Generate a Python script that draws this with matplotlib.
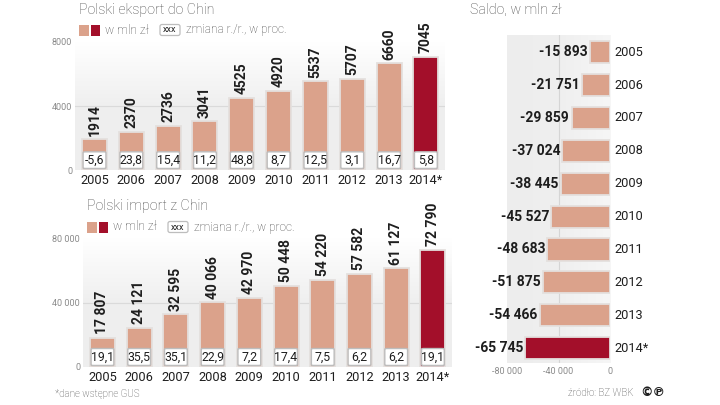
import matplotlib.pyplot as plt
import numpy as np
from matplotlib.patches import FancyBboxPatch, Rectangle
from matplotlib.colors import LinearSegmentedColormap

years = ['2005', '2006', '2007', '2008', '2009', '2010', '2011', '2012', '2013', '2014*']
export_val = [1914, 2370, 2736, 3041, 4525, 4920, 5537, 5707, 6660, 7045]
export_chg = ['-5,6', '23,8', '15,4', '11,2', '48,8', '8,7', '12,5', '3,1', '16,7', '5,8']
import_val = [17807, 24121, 32595, 40066, 42970, 50448, 54220, 57582, 61127, 72790]
import_chg = ['19,1', '35,5', '35,1', '22,9', '7,2', '17,4', '7,5', '6,2', '6,2', '19,1']
saldo_val = [-15893, -21751, -29859, -37024, -38445, -45527, -48683, -51875, -54466, -65745]

SALMON = '#dba28b'
DARK = '#a30f2a'
TXT = '#1e1e1e'
GREY = '#8a8a8a'
LABEL = '#4a4a4a'

plt.rcParams['font.family'] = ['Roboto', 'DejaVu Sans']

W, H = 720, 405
fig = plt.figure(figsize=(7.2, 4.05), dpi=100)
fig.patch.set_facecolor('white')


def fmt(v):
    return '{:,}'.format(v).replace(',', ' ')


def px_axes(x0, y0, x1, y1, **kw):
    # axes from pixel box (top-left origin)
    return fig.add_axes([x0 / W, 1 - y1 / H, (x1 - x0) / W, (y1 - y0) / H], **kw)


def gradient(ax, horizontal=False):
    if horizontal:
        cmap = LinearSegmentedColormap.from_list('g', ['#f6f6f6', '#efefef', '#ededed'])
        img = np.linspace(0, 1, 100)[::-1][None, :]
    else:
        cmap = LinearSegmentedColormap.from_list('g', ['#ffffff', '#efefef', '#eeeeee'])
        img = np.linspace(0, 1, 100)[:, None]
    ax.imshow(img, cmap=cmap, aspect='auto', extent=[0, 1, 0, 1],
              transform=ax.transAxes, zorder=0, vmin=0, vmax=1)


def column_chart(ax, vals, chg, ymax, ticks, ticklabels, box_h, label_fmt):
    x = np.arange(len(vals))
    gradient(ax)
    ax.axhline(ticks[1], color='#dadada', lw=0.8, zorder=1)
    colors = [SALMON] * (len(vals) - 1) + [DARK]
    ax.bar(x, vals, width=0.68, color=colors, edgecolor='#e4e0de', lw=1.3, zorder=2)
    for xi, v, c in zip(x, vals, chg):
        ax.add_patch(FancyBboxPatch((xi - 0.31, ymax * 0.012), 0.62, box_h,
                                    boxstyle='round,pad=0,rounding_size=0.06',
                                    mutation_aspect=ymax / 10,
                                    fc='white', ec='#bdbdbd', lw=1.0, zorder=3))
        ax.text(xi, ymax * 0.012 + box_h / 2, c, ha='center', va='center',
                fontsize=8.8, color=TXT, zorder=4)
        ax.text(xi, v + ymax * 0.03, label_fmt(v), rotation=90, ha='center',
                va='bottom', fontsize=10, fontweight='bold', color=TXT,
                clip_on=False)
    ax.set_xlim(-0.53, 9.52)
    ax.set_ylim(0, ymax)
    ax.set_yticks(ticks)
    ax.set_yticklabels(ticklabels, fontsize=6.5, color=GREY)
    ax.set_xticks(x)
    ax.set_xticklabels(years, fontsize=9.2, color=TXT)
    ax.tick_params(length=0, pad=3)
    ax.tick_params(axis='y', pad=2)
    for s in ax.spines.values():
        s.set_visible(False)


# top: export
ax1 = px_axes(75, 42, 445, 170)
column_chart(ax1, export_val, export_chg, 8000, [0, 4000, 8000],
             ['0', '4000', '8000'], 1040, str)

# bottom: import
ax2 = px_axes(83, 238, 452, 367)
column_chart(ax2, import_val, import_chg, 80000, [0, 40000, 80000],
             ['0', '40 000', '80 000'], 10500, fmt)

# right: saldo
ax3 = px_axes(507, 35, 610, 363)
gradient(ax3, horizontal=True)
y = np.arange(len(saldo_val))
ax3.axvline(-40000, color='#d5d5d5', lw=0.8, zorder=1)
colors = [SALMON] * (len(saldo_val) - 1) + [DARK]
ax3.barh(y, saldo_val, height=0.67, color=colors, edgecolor='#e4e0de', lw=1.3, zorder=2)
for yi, v, yr in zip(y, saldo_val, years):
    ax3.text(v - 1800, yi, '-' + fmt(-v), ha='right', va='center', fontsize=10,
             fontweight='bold', color=TXT, clip_on=False)
    ax3.text(3500, yi, yr, ha='left', va='center', fontsize=9.2, color=TXT, clip_on=False)
ax3.set_xlim(-80000, 0)
ax3.set_ylim(9.45, -0.52)
ax3.set_xticks([-80000, -40000, 0])
ax3.set_xticklabels(['-80 000', '-40 000', '0'], fontsize=6.5, color=GREY)
ax3.set_yticks([])
ax3.tick_params(length=0, pad=3)
for s in ax3.spines.values():
    s.set_visible(False)

# overlay for titles and legends
ov = fig.add_axes([0, 0, 1, 1], zorder=-5)
ov.set_xlim(0, W)
ov.set_ylim(H, 0)
ov.axis('off')


def legend(x0, yc):
    ov.add_patch(Rectangle((x0, yc - 5.5), 9.5, 11, fc=SALMON, ec='none'))
    ov.add_patch(Rectangle((x0 + 11.5, yc - 5.5), 9.5, 11, fc=DARK, ec='none'))
    ov.text(x0 + 26, yc, 'w mln zł', fontsize=8.7, color=LABEL, va='center',
            fontweight='light')
    ov.add_patch(FancyBboxPatch((x0 + 81, yc - 5.5), 20, 11,
                                boxstyle='round,pad=0,rounding_size=2',
                                fc='white', ec='#bdbdbd', lw=0.9))
    ov.text(x0 + 91, yc, 'xxx', fontsize=6.5, color=TXT, va='center', ha='center')
    ov.text(x0 + 107, yc, 'zmiana r./r., w proc.', fontsize=8.6, color=LABEL,
            va='center', fontweight='light')


ov.text(79, 10, 'Polski eksport do Chin', fontsize=10.3, color=LABEL,
        va='center', fontweight='light')
legend(79, 30)
ov.text(87, 206, 'Polski import z Chin', fontsize=10.3, color=LABEL,
        va='center', fontweight='light')
legend(87, 227)
ov.text(470, 10, 'Saldo, w mln zł', fontsize=10.3, color=LABEL,
        va='center', fontweight='light')
ov.text(55, 394, '*dane wstępne GUS', fontsize=7, color=LABEL, va='center',
        fontweight='light')
ov.text(568, 393, 'źródło: BZ WBK', fontsize=7, color=LABEL, va='center',
        fontweight='light')
ov.text(640, 392, '©℗', fontsize=9, color=TXT, va='center',
        family=['DejaVu Sans'], fontweight='bold')

fig.savefig('out.png', dpi=100)
